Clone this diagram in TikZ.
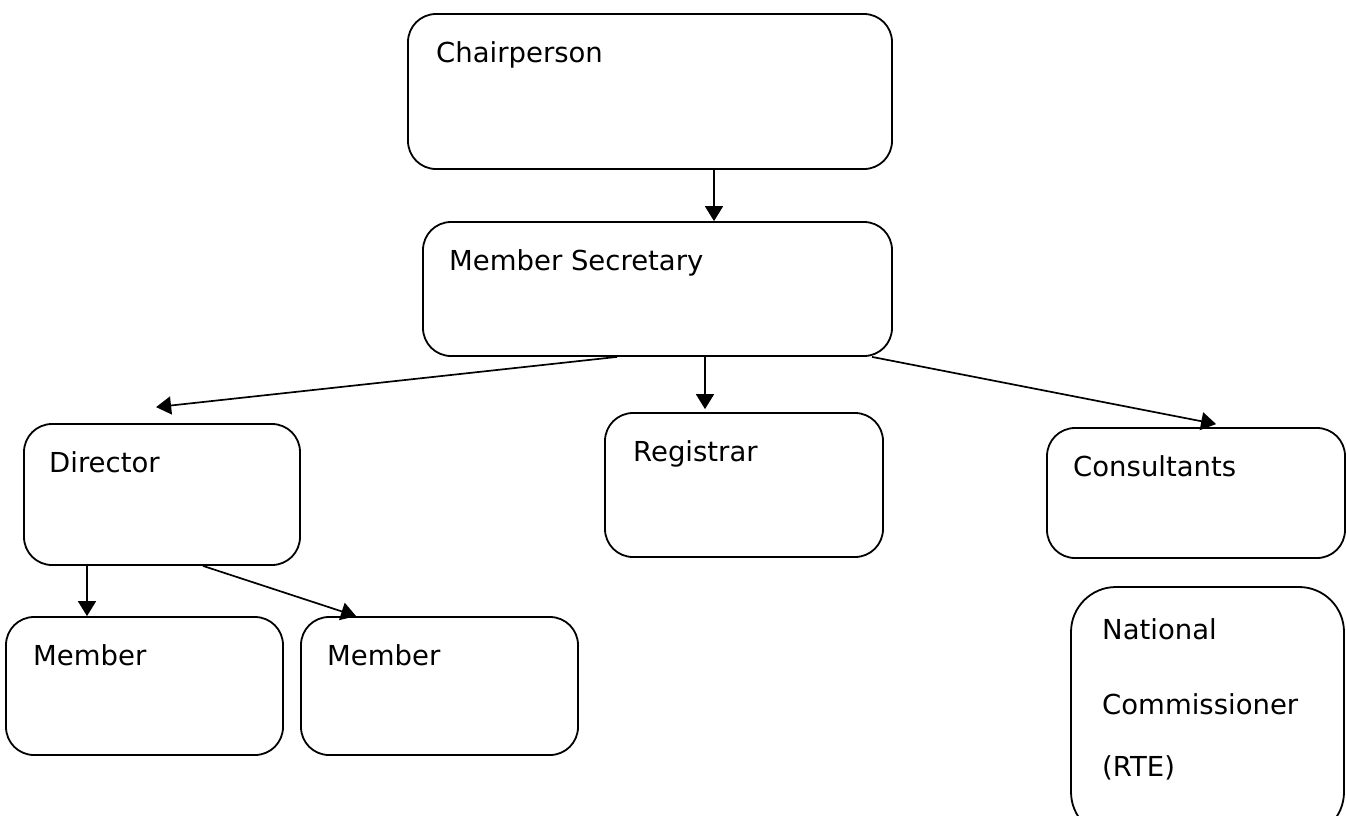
\documentclass[tikz,border=0pt]{standalone}
\usepackage{fontspec}
\setmainfont{DejaVu Sans}
\usetikzlibrary{arrows.meta,calc}
\begin{document}
\begin{tikzpicture}[x=1pt,y=-1pt,
  box/.style={draw,line width=1.8pt,inner sep=0pt,rounded corners=28pt},
  lbl/.style={anchor=base west,inner sep=0pt,font=\fontsize{27.5}{32}\selectfont},
  conn/.style={line width=1.7pt,-{Triangle[length=15pt 0,width=18pt 0]}}]
\useasboundingbox (0,0) rectangle (1346,815);
% boxes
\node[box,minimum width=484pt,minimum height=155pt] (chair) at (650,91.5) {};
\node[box,minimum width=469pt,minimum height=134pt] (ms) at (657.5,289) {};
\node[box,minimum width=276pt,minimum height=141pt] (dir) at (162,494.5) {};
\node[box,minimum width=278pt,minimum height=144pt] (reg) at (744,485) {};
\node[box,minimum width=298pt,minimum height=130pt] (cons) at (1196,493) {};
\node[box,rounded corners=45pt,minimum width=273pt,minimum height=250pt] (nat) at (1207.5,712) {};
\node[box,minimum width=277pt,minimum height=138pt] (m1) at (144.5,686) {};
\node[box,minimum width=277pt,minimum height=138pt] (m2) at (439.5,686) {};
% labels
\node[lbl] (chairT) at (436,62) {Chairperson};
\node[lbl] (msT) at (449,270) {Member Secretary};
\node[lbl] (dirT) at (49,472) {Director};
\node[lbl] (regT) at (633,461) {Registrar};
\node[lbl] (consT) at (1073,476) {Consultants};
\node[lbl] (natT1) at (1102,639) {National};
\node[lbl] (natT2) at (1102,714) {Commissioner};
\node[lbl] (natT3) at (1102,776) {(RTE)};
\node[lbl] (m1T) at (33,665) {Member};
\node[lbl] (m2T) at (327,665) {Member};
% connectors
\draw[conn] (chair.south -| 714,0) -- (ms.north -| 714,0);
\draw[conn] (ms.south -| 617,0) -- ($(dir.north west)+(133,-16)$);
\draw[conn] (ms.south -| 705,0) -- ($(reg.north -| 705,0)+(0,-3)$);
\draw[conn] (ms.south -| 872,0) -- ($(cons.north west)+(170,-3)$);
\draw[conn] (dir.south -| 87,0) -- (m1.north -| 87,0);
\draw[conn] (dir.south -| 203,0) -- ($(m2.north west)+(56,0)$);
\end{tikzpicture}
\end{document}
